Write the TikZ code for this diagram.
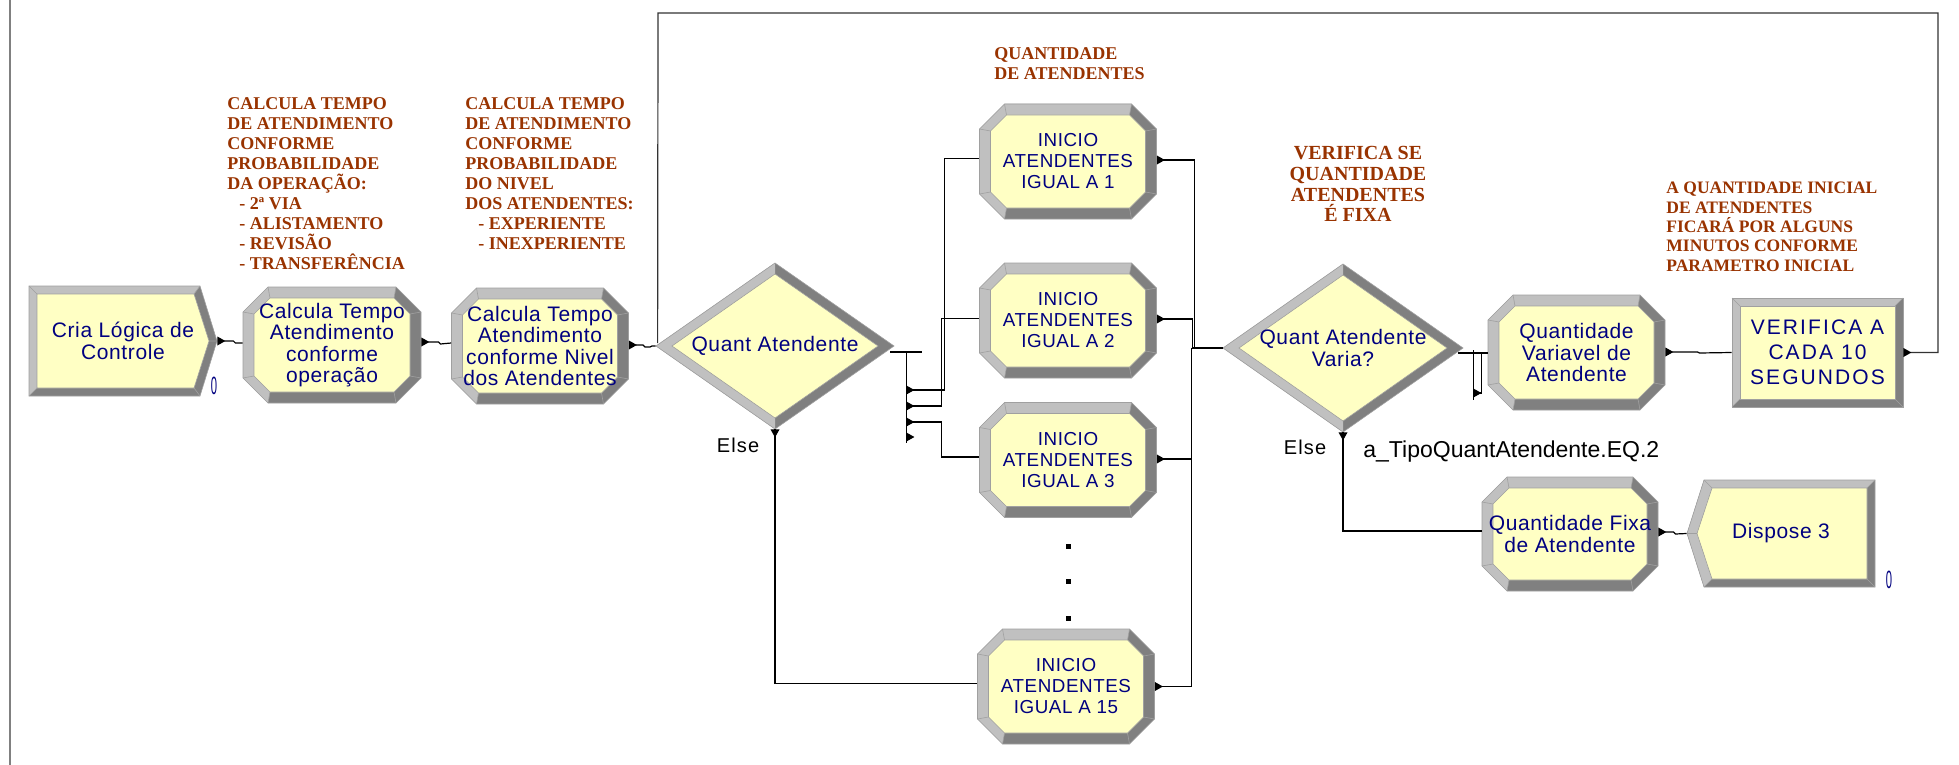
\documentclass[tikz,border=0pt]{standalone}
\usepackage{fontspec}
\setmainfont{Liberation Serif}
\setsansfont{Liberation Sans}
\newfontfamily\modfont[LetterSpace=3]{Liberation Sans}
\newfontfamily\widefont[LetterSpace=10]{Liberation Sans}
\newfontfamily\elsefont[LetterSpace=6]{Liberation Sans}
\usetikzlibrary{calc}

\definecolor{modfill}{HTML}{FFFFC4}
\definecolor{bevlight}{HTML}{C0C0C0}
\definecolor{bevdark}{HTML}{808080}
\definecolor{bevedge}{HTML}{A0A0A0}
\definecolor{modtext}{HTML}{000080}
\definecolor{notebrown}{HTML}{993300}

\tikzset{
  conn/.style={draw=black, line width=0.6pt},
  loopline/.style={draw=black!80, line width=0.6pt},
  edgeline/.style={draw=bevedge, line width=0.3pt},
  modlabel/.style={text=modtext, font=\modfont\fontsize{10.5}{10.75}\selectfont,
    align=center, inner sep=0pt},
  inilabel/.style={modlabel, font=\modfont\fontsize{9.4}{10.5}\selectfont},
  widelabel/.style={modlabel, font=\widefont\fontsize{10.5}{12.5}\selectfont},
  note/.style={text=notebrown, font=\bfseries\fontsize{9}{10}\selectfont,
    align=left, inner sep=0pt, anchor=north west},
  elselbl/.style={text=black, font=\elsefont\fontsize{10}{10}\selectfont, inner sep=0pt},
  condlbl/.style={text=black, font=\sffamily\fontsize{11.5}{11.5}\selectfont, inner sep=0pt},
  counter/.style={text=modtext, inner sep=0pt,
    font=\sffamily\fontsize{12.5}{12.5}\selectfont},
  dotsq/.style={fill=black, inner sep=0pt, minimum size=2.5pt},
  triR/.pic={\fill[black] (0,-4.5) -- (8,0) -- (0,4.5) -- cycle;},
  triD/.pic={\fill[black] (-4.5,0) -- (0,8) -- (4.5,0) -- cycle;}
}

% beveled octagon module: style, name, cx, cy, w, h, text
\newcommand\octmodule[7]{%
  \pgfmathsetmacro\xl{#3-#5/2}\pgfmathsetmacro\xr{#3+#5/2}%
  \pgfmathsetmacro\yt{#4-#6/2}\pgfmathsetmacro\yb{#4+#6/2}%
  \pgfmathsetmacro\xli{\xl+11}\pgfmathsetmacro\xri{\xr-11}%
  \pgfmathsetmacro\yti{\yt+11}\pgfmathsetmacro\ybi{\yb-11}%
  \fill[bevdark] (\xl+25,\yt) -- (\xr-25,\yt) -- (\xr,\yt+25) -- (\xr,\yb-25)
    -- (\xr-25,\yb) -- (\xl+25,\yb) -- (\xl,\yb-25) -- (\xl,\yt+25) -- cycle;
  \fill[bevlight] (\xl+25,\yb) -- (\xl,\yb-25) -- (\xl,\yt+25) -- (\xl+25,\yt)
    -- (\xr-25,\yt) -- (\xri-16,\yti) -- (\xli+16,\yti) -- (\xli,\yti+16)
    -- (\xli,\ybi-16) -- (\xli+16,\ybi) -- cycle;
  \draw[edgeline] (\xl+25,\yt) -- (\xli+16,\yti) (\xr-25,\yt) -- (\xri-16,\yti)
    (\xr,\yt+25) -- (\xri,\yti+16) (\xr,\yb-25) -- (\xri,\ybi-16)
    (\xr-25,\yb) -- (\xri-16,\ybi) (\xl+25,\yb) -- (\xli+16,\ybi)
    (\xl,\yb-25) -- (\xli,\ybi-16) (\xl,\yt+25) -- (\xli,\yti+16);
  \draw[edgeline] (\xl+25,\yt) -- (\xr-25,\yt) -- (\xr,\yt+25) -- (\xr,\yb-25)
    -- (\xr-25,\yb) -- (\xl+25,\yb) -- (\xl,\yb-25) -- (\xl,\yt+25) -- cycle;
  \filldraw[fill=modfill, draw=bevedge, line width=0.3pt] (\xli+16,\yti) -- (\xri-16,\yti)
    -- (\xri,\yti+16) -- (\xri,\ybi-16) -- (\xri-16,\ybi) -- (\xli+16,\ybi)
    -- (\xli,\ybi-16) -- (\xli,\yti+16) -- cycle;
  \node[#1, minimum width={#5*0.5pt}, minimum height={#6*0.5pt}] (#2) at (#3,#4) {#7};
}

% beveled decision diamond: name, cx, cy, w, h, text
\newcommand\decmodule[6]{%
  \pgfmathsetmacro\da{#4/2}\pgfmathsetmacro\db{#5/2}%
  \fill[bevdark] (#2-\da,#3) -- (#2,#3-\db) -- (#2+\da,#3) -- (#2,#3+\db) -- cycle;
  \fill[bevlight] (#2,#3+\db) -- (#2-\da,#3) -- (#2,#3-\db) -- (#2,#3-\db+11)
    -- (#2-\da+16,#3) -- (#2,#3+\db-11) -- cycle;
  \draw[edgeline] (#2-\da,#3) -- (#2,#3-\db) -- (#2+\da,#3) -- (#2,#3+\db) -- cycle;
  \filldraw[fill=modfill, draw=bevedge, line width=0.3pt] (#2-\da+16,#3) -- (#2,#3-\db+11)
    -- (#2+\da-16,#3) -- (#2,#3+\db-11) -- cycle;
  \node[modlabel, minimum width={#4*0.5pt}, minimum height={#5*0.5pt}] (#1) at (#2,#3) {#6};
}

\begin{document}
\begin{tikzpicture}[x=0.5pt, y=-0.5pt]
\useasboundingbox (0,0) rectangle (1959,765);
\fill[white] (0,0) rectangle (1959,765);

% page edge on the left
\draw[bevdark, line width=1pt] (10,0) -- (10,765);

% ---- Create module
\fill[bevdark] (29,286) -- (200,286) -- (217,341) -- (200,396) -- (29,396) -- cycle;
\fill[bevlight] (29,396) -- (29,286) -- (200,286) -- (194,294) -- (37,294) -- (37,388) -- cycle;
\draw[edgeline] (29,286) -- (37,294) (200,286) -- (194,294) (217,341) -- (209,341)
  (200,396) -- (194,388) (29,396) -- (37,388);
\draw[edgeline] (29,286) -- (200,286) -- (217,341) -- (200,396) -- (29,396) -- cycle;
\filldraw[fill=modfill, draw=bevedge, line width=0.3pt]
  (37,294) -- (194,294) -- (209,341) -- (194,388) -- (37,388) -- cycle;
\node[modlabel, minimum width=94pt, minimum height=55pt] (create) at (123,341)
  {Cria Lógica de\\Controle};
\node[counter] (cnt1) at (214,386) {\scalebox{0.45}[1]{0}};

% ---- process modules
\octmodule{modlabel}{calc1}{332}{345}{178}{116}{Calcula Tempo\\Atendimento\\conforme\\operação}
\octmodule{modlabel}{calc2}{540}{346}{177}{116}{Calcula Tempo\\Atendimento\\conforme Nivel\\dos Atendentes}

\decmodule{dec1}{775}{346}{238}{166}{Quant Atendente}

\octmodule{inilabel}{ini1}{1068}{161.5}{177}{115}{INICIO\\ATENDENTES\\IGUAL A 1}
\octmodule{inilabel}{ini2}{1068}{320.5}{177}{115}{INICIO\\ATENDENTES\\IGUAL A 2}
\octmodule{inilabel}{ini3}{1068}{460}{177}{115}{INICIO\\ATENDENTES\\IGUAL A 3}
\octmodule{inilabel}{ini15}{1066}{686.5}{177}{115}{INICIO\\ATENDENTES\\IGUAL A 15}

\node[dotsq] (dot1) at (1068,546) {};
\node[dotsq] (dot2) at (1068,581) {};
\node[dotsq] (dot3) at (1068,618) {};

\decmodule{dec2}{1343}{348}{240}{168}{Quant Atendente\\Varia?}

\octmodule{modlabel}{qvar}{1576.5}{352.5}{177}{115}{Quantidade\\Variavel de\\Atendente}
\octmodule{modlabel}{qfix}{1570}{534}{176}{114}{Quantidade Fixa\\de Atendente}

% ---- delay module (rectangle)
\fill[bevdark] (1732,298) rectangle (1903,407);
\fill[bevlight] (1732,407) -- (1732,298) -- (1903,298) -- (1895,306) -- (1740,306) -- (1740,399) -- cycle;
\draw[edgeline] (1732,298) -- (1740,306) (1903,298) -- (1895,306) (1903,407) -- (1895,399) (1732,407) -- (1740,399);
\draw[edgeline] (1732,298) rectangle (1903,407);
\filldraw[fill=modfill, draw=bevedge, line width=0.3pt] (1740,306) rectangle (1895,399);
\node[widelabel, minimum width=85.5pt, minimum height=54.5pt] (verif) at (1817.5,352.5)
  {VERIFICA A\\CADA 10\\SEGUNDOS};

% ---- dispose module
\fill[bevdark] (1704,480) -- (1875,480) -- (1875,587) -- (1704,587) -- (1687,533.5) -- cycle;
\fill[bevlight] (1875,480) -- (1704,480) -- (1687,533.5) -- (1704,587) -- (1712,579)
  -- (1697,533.5) -- (1712,488) -- (1867,488) -- cycle;
\draw[edgeline] (1704,480) -- (1712,488) (1875,480) -- (1867,488) (1875,587) -- (1867,579)
  (1704,587) -- (1712,579) (1687,533.5) -- (1697,533.5);
\draw[edgeline] (1704,480) -- (1875,480) -- (1875,587) -- (1704,587) -- (1687,533.5) -- cycle;
\filldraw[fill=modfill, draw=bevedge, line width=0.3pt]
  (1712,488) -- (1867,488) -- (1867,579) -- (1712,579) -- (1697,533.5) -- cycle;
\node[modlabel, minimum width=94pt, minimum height=53.5pt] (disp) at (1781,533.5) {Dispose 3};
\node[counter] (cnt2) at (1889,580) {\scalebox{0.45}[1]{0}};

% ---- connectors
% create -> calc1 -> calc2 -> dec1
\draw[conn] ($(create.east)+(7,0)$) -- ++(9,0) -- ++(2,2) -- ($(calc1.west)+(0,-2)$);
\pic at (create.east) {triR};
\draw[conn] ($(calc1.east)+(7,-3)$) -- ++(10,0) -- ++(2,2) -- ($(calc2.west)+(0,-3)$);
\pic at ($(calc1.east)+(0,-3)$) {triR};
\draw[conn] ($(calc2.east)+(7,-1)$) -- ++(7,0) -- ++(2,2) -- ++(5,0) -- ++(2,-1) -- (dec1.west);
\pic at ($(calc2.east)+(0,-1)$) {triR};

% dec1 branch exits
\draw[conn] ($(dec1.east)+(-4,6)$) -- ++(32,0);
\draw[conn] ($(dec1.east)+(12,6)$) -- ++(0,91);
\coordinate (d1o1) at ($(dec1.east)+(12,44)$);
\coordinate (d1o2) at ($(dec1.east)+(12,60)$);
\coordinate (d1o3) at ($(dec1.east)+(12,76)$);
\coordinate (d1o4) at ($(dec1.east)+(12,91)$);
\draw[conn] (d1o1) -- ++(38,0) |- ($(ini1.west)+(0,-3)$);
\draw[conn] (d1o2) -- ++(35,0) |- ($(ini2.west)+(0,-2)$);
\draw[conn] (d1o3) -- ++(35,0) |- ($(ini3.west)+(0,-3)$);
\foreach \p in {d1o1,d1o2,d1o3,d1o4} { \pic at (\p) {triR}; }
\draw[conn] (dec1.south) |- ($(ini15.west)+(0,-3)$);
\pic at (dec1.south) {triD};
\node[elselbl] (else1) at (738,445) {Else};

% collector into dec2
\coordinate (join) at ($(dec2.west)+(-31,0)$);
\draw[conn] ($(ini1.east)+(0,-1.5)$) -| ($(join)+(3,0)$);
\draw[conn] ($(ini2.east)+(0,-1.5)$) -| ($(join)+(1,0)$);
\draw[conn] ($(ini3.east)+(0,-1)$) -| (join);
\draw[conn] (ini15.east) -| (join);
\draw[conn] (join) -- (dec2.west);
\pic at ($(ini1.east)+(0,-1.5)$) {triR};
\pic at ($(ini2.east)+(0,-1.5)$) {triR};
\pic at ($(ini3.east)+(0,-1)$) {triR};
\pic at (ini15.east) {triR};

% dec2 exits
\draw[conn] ($(dec2.east)+(-5,5)$) -- ($(qvar.west)+(0,0.5)$);
\draw[conn] ($(dec2.east)+(10,2)$) -- ++(0,50);
\draw[conn] ($(dec2.east)+(10,45)$) -- ++(8,0) |- ($(qvar.west)+(0,0.5)$);
\pic at ($(dec2.east)+(10,45)$) {triR};
\draw[conn] (dec2.south) |- ($(qfix.west)+(0,-3)$);
\pic at (dec2.south) {triD};
\node[elselbl] (else2) at (1305,447) {Else};
\node[condlbl, anchor=base west] (cond2) at (1363,457) {a\_TipoQuantAtendente.EQ.2};

% qvar -> verif, qfix -> disp
\draw[conn] ($(qvar.east)+(7,-0.5)$) -- ++(25,0) -- ++(2,1) -- (verif.west);
\pic at ($(qvar.east)+(0,-0.5)$) {triR};
\draw[conn] ($(qfix.east)+(7,-2)$) -- ++(8,0) -- ++(2,2) -- (disp.west);
\pic at ($(qfix.east)+(0,-2)$) {triR};

% loop back from the delay to the first decision
\coordinate (loopTR) at (1938,13);
\coordinate (loopTL) at (658,13);
\draw[loopline] ($(verif.east)+(7,0)$) -| (loopTR) -- (loopTL) -- ($(dec1.west)+(2,-3)$);
\pic at (verif.east) {triR};

% ---- notes
\node[note] (note1) at (227,97) {CALCULA TEMPO\\DE ATENDIMENTO\\CONFORME\\PROBABILIDADE\\DA OPERAÇÃO:\\
  \hspace*{6pt}- 2ª VIA\\\hspace*{6pt}- ALISTAMENTO\\\hspace*{6pt}- REVISÃO\\\hspace*{6pt}- TRANSFERÊNCIA};
\node[note] (note2) at (465,97) {CALCULA TEMPO\\DE ATENDIMENTO\\CONFORME\\PROBABILIDADE\\DO NIVEL\\
  DOS ATENDENTES:\\\hspace*{6.5pt}- EXPERIENTE\\\hspace*{6.5pt}- INEXPERIENTE};
\node[note] (note3) at (994,47) {QUANTIDADE\\DE ATENDENTES};
\node[note, anchor=north, align=center, font=\bfseries\fontsize{10}{10.35}\selectfont]
  (note4) at (1358,146) {VERIFICA SE\\QUANTIDADE\\ATENDENTES\\É FIXA};
\node[note, font=\bfseries\fontsize{8.75}{9.65}\selectfont] (note5) at (1666,182)
  {A QUANTIDADE INICIAL\\DE ATENDENTES\\FICARÁ POR ALGUNS\\MINUTOS CONFORME\\PARAMETRO INICIAL};
\end{tikzpicture}
\end{document}
